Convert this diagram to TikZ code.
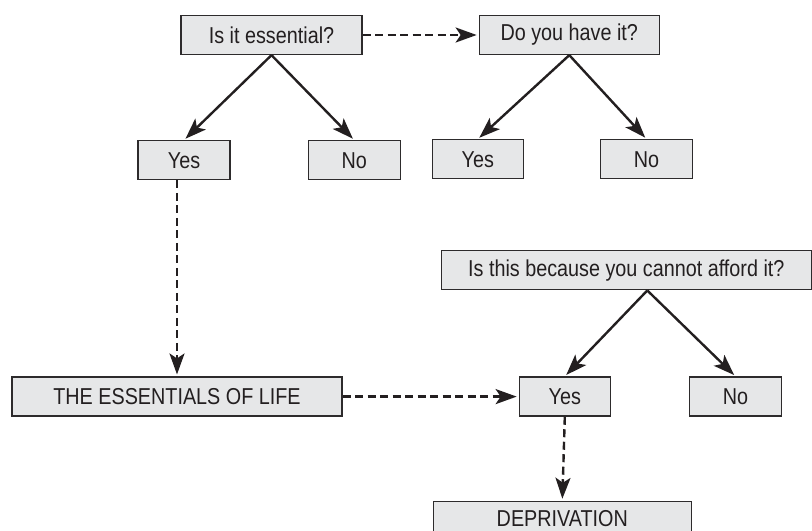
\documentclass[tikz,border=0pt]{standalone}
\usepackage{fontspec}
\setmainfont{Liberation Sans}[FakeStretch=0.86]
\usetikzlibrary{arrows.meta,positioning}

\begin{document}
\begin{tikzpicture}[
    font=\fontsize{23bp}{27bp}\selectfont,
    box/.style={
        draw=boxline,
        fill=boxfill,
        text=textdark,
        minimum height=39bp,
        minimum width=#1,
        inner sep=2pt,
        line width=1.3bp
    },
    box/.default=92bp,
    flow/.style={-{Stealth[length=21bp, width=15bp, inset=5bp]}, line width=2.4bp, draw=linedark, shorten >=2bp},
    dashflow/.style={flow, dash pattern=on 8bp off 4.5bp}
]

\definecolor{boxfill}{RGB}{230,231,232}
\definecolor{boxline}{RGB}{45,43,44}
\definecolor{linedark}{RGB}{35,31,32}
\definecolor{textdark}{RGB}{35,31,32}

\useasboundingbox (0,0) rectangle (812bp,-531bp);

% A. is it essential / do you have it
\node[box=181bp] (essential) at (271.5bp,-35bp) {Is it essential?};
\node[box=180bp, right=116bp of essential] (haveit) {Do you have it?};
\node[box, below=85bp of essential, xshift=-87.5bp] (yesA) {Yes};
\node[box, right=77bp of yesA] (noA) {No};
\node[box=91bp, below=84bp of haveit, xshift=-91.5bp] (yesB) {Yes};
\node[box, right=76bp of yesB] (noB) {No};

\draw[flow] (essential.south) -- (yesA.north);
\draw[flow] (essential.south) -- (noA.north);
\draw[flow] (haveit.south) -- (yesB.north);
\draw[flow] (haveit.south) -- (noB.north);
\draw[dashflow] (essential.east) -- (haveit.west);

% B. essentials of life and deprivation
\node[box=330bp, below=196bp of yesA, xshift=-7bp] (essentials) {THE ESSENTIALS OF LIFE};
\node[box=91bp, right=176bp of essentials] (yesC) {Yes};
\node[box, right=78bp of yesC] (noC) {No};
\node[box=370bp, above=86bp of yesC, xshift=61.5bp] (afford) {Is this because you cannot afford it?};
\node[box=258bp, minimum height=34bp, below=84bp of yesC, xshift=-2.5bp] (deprivation) {DEPRIVATION};

\draw[dashflow] (essentials.north |- yesA.south) -- (essentials.north);
\draw[dashflow] (essentials.east) -- (yesC.west);
\draw[flow] ([xshift=21bp]afford.south) -- (yesC.north);
\draw[flow] ([xshift=21bp]afford.south) -- (noC.north);
\draw[dashflow] (yesC.south) -- (deprivation.north);

\end{tikzpicture}
\end{document}
